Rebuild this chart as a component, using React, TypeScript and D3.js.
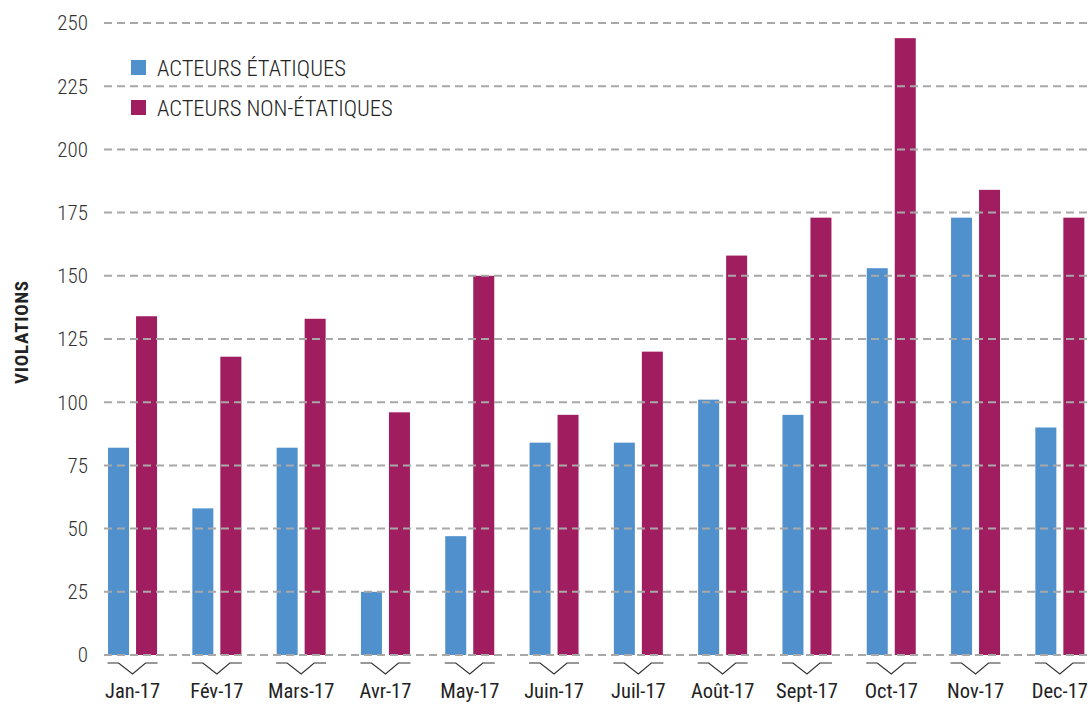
import { useEffect, useRef } from 'react'
import * as d3 from 'd3'

// monthly violations
const months = ['Jan-17', 'Fév-17', 'Mars-17', 'Avr-17', 'May-17', 'Juin-17', 'Juil-17', 'Août-17', 'Sept-17', 'Oct-17', 'Nov-17', 'Dec-17']
const etatiques = [82, 58, 82, 25, 47, 84, 84, 101, 95, 153, 173, 90]
const nonEtatiques = [134, 118, 133, 96, 150, 95, 120, 158, 173, 244, 184, 173]
const yTicks = [0, 25, 50, 75, 100, 125, 150, 175, 200, 225, 250]
const seriesNames = ['ACTEURS ÉTATIQUES', 'ACTEURS NON-ÉTATIQUES']

const BLUE = '#4f90cd'
const MAGENTA = '#a01e5f'
const FONT = '"Roboto Condensed", "Liberation Sans Narrow", "DejaVu Sans Condensed", Roboto, sans-serif'

export default function App() {
  const svgRef = useRef<SVGSVGElement | null>(null)

  useEffect(() => {
    if (!svgRef.current) return
    const width = 1091
    const height = 704

    const svg = d3.select(svgRef.current)
    svg.selectAll('*').remove()

    const x = d3.scaleBand<string>()
      .domain(months)
      .range([90.4, 90.4 + 12 * 84.3])

    const y = d3.scaleLinear()
      .domain([0, 250])
      .range([655, 23])

    const barW = 21
    const gap = 7

    const g = svg.append('g')

    // bars
    const groups = g.selectAll('.month')
      .data(months)
      .enter().append('g')
      .attr('transform', d => `translate(${x(d)! + x.bandwidth() / 2},0)`)

    groups.append('rect')
      .attr('x', -gap / 2 - barW)
      .attr('width', barW)
      .attr('y', (_, i) => y(etatiques[i]))
      .attr('height', (_, i) => y(0) - y(etatiques[i]))
      .attr('fill', BLUE)

    groups.append('rect')
      .attr('x', gap / 2)
      .attr('width', barW)
      .attr('y', (_, i) => y(nonEtatiques[i]))
      .attr('height', (_, i) => y(0) - y(nonEtatiques[i]))
      .attr('fill', MAGENTA)

    // dashed gridlines on top of bars
    g.selectAll('.grid')
      .data(yTicks)
      .enter().append('line')
      .attr('x1', 104).attr('x2', width)
      .attr('y1', d => y(d)).attr('y2', d => y(d))
      .attr('stroke', '#a8a8a8')
      .attr('stroke-width', 2)
      .attr('stroke-dasharray', '8,5')

    // y tick labels
    g.selectAll('.ytick')
      .data(yTicks)
      .enter().append('text')
      .attr('x', 88)
      .attr('y', d => y(d))
      .attr('dy', '0.35em')
      .attr('text-anchor', 'end')
      .attr('fill', '#333')
      .attr('font-family', FONT)
      .attr('font-weight', 300)
      .attr('font-size', 21)
      .text(d => d)

    // bracket tick marks under each month
    groups.append('path')
      .attr('d', 'M-25,663 H-14 L0,674 L13,663 H25')
      .attr('fill', 'none')
      .attr('stroke', '#333')
      .attr('stroke-width', 1.2)

    groups.append('text')
      .attr('y', 698)
      .attr('text-anchor', 'middle')
      .attr('fill', '#222')
      .attr('font-family', FONT)
      .attr('font-size', 20.5)
      .text(d => d)

    // y axis title
    svg.append('text')
      .attr('transform', `translate(28,332) rotate(-90)`)
      .attr('text-anchor', 'middle')
      .attr('fill', '#222')
      .attr('font-family', FONT)
      .attr('font-weight', 'bold')
      .attr('font-size', 19)
      .attr('letter-spacing', 0.8)
      .text('VIOLATIONS')

    // legend
    const legend = svg.append('g')
    ;[BLUE, MAGENTA].forEach((c, i) => {
      legend.append('rect')
        .attr('x', 131).attr('y', 60 + i * 40)
        .attr('width', 15).attr('height', 15)
        .attr('fill', c)
      legend.append('text')
        .attr('x', 157).attr('y', 76 + i * 40)
        .attr('fill', '#222')
        .attr('font-family', FONT)
        .attr('font-weight', 300)
        .attr('font-size', 22.5)
        .text(seriesNames[i])
    })

    svg.attr('width', width).attr('height', height)
  }, [])

  return (
    <div style={{ position: 'absolute', left: 0, top: 0 }}>
      <svg ref={svgRef} style={{ display: 'block' }} />
    </div>
  )
}
